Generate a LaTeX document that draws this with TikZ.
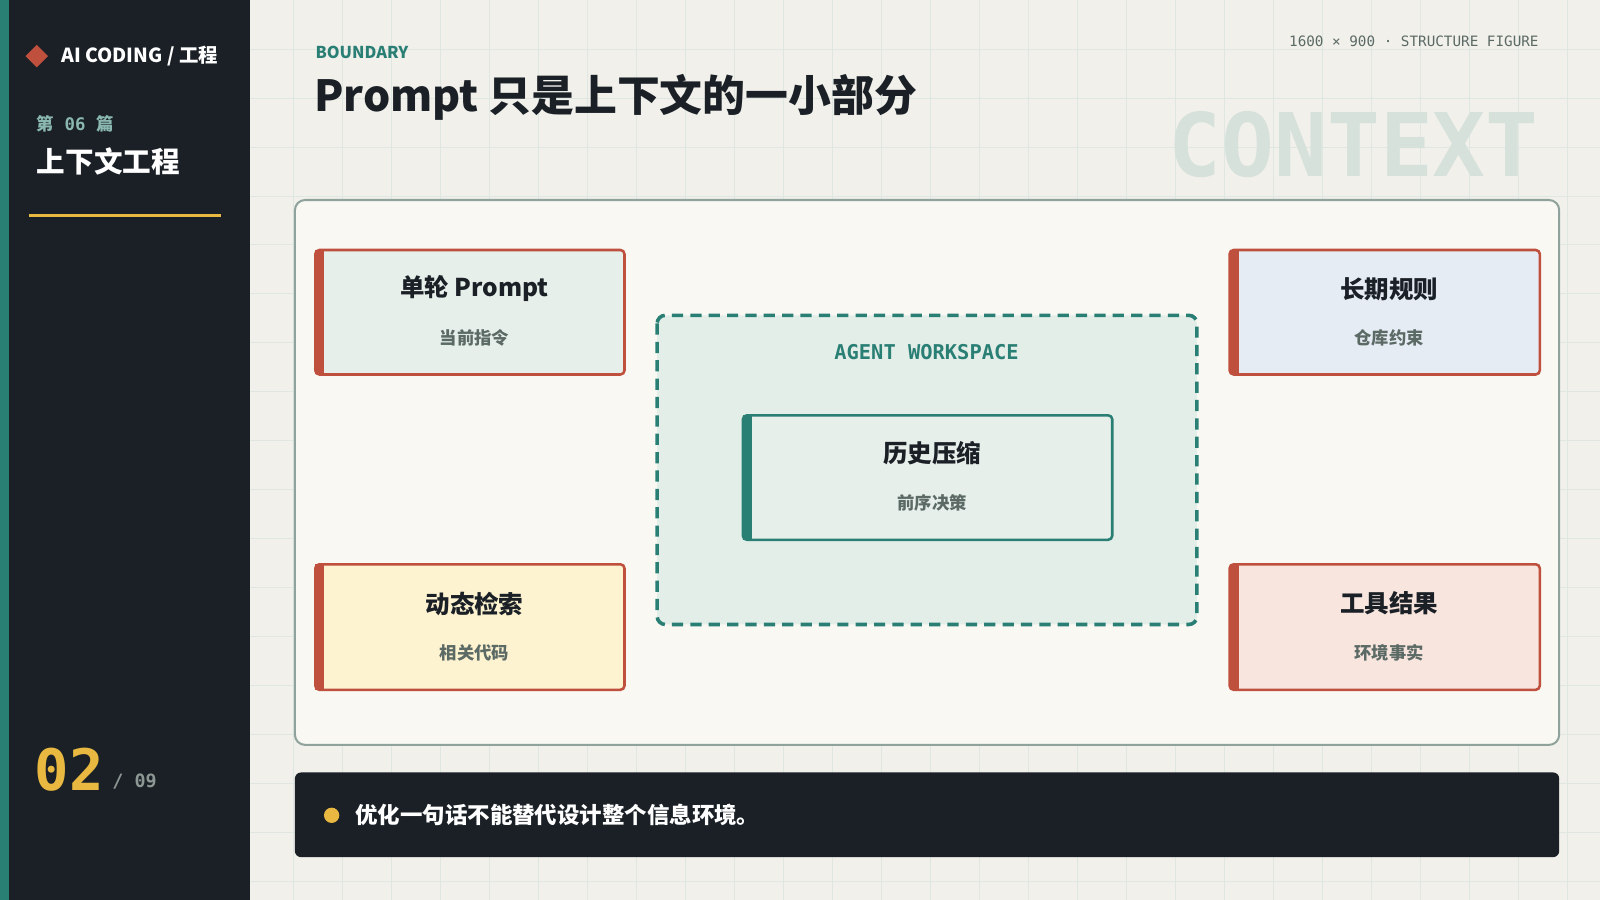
\documentclass[tikz,border=0pt]{standalone}
\usepackage{fontspec}
\setmainfont{Noto Sans CJK SC}
\newfontfamily\cjk{Noto Sans CJK SC}
\newfontfamily\monof{DejaVu Sans Mono}
\usetikzlibrary{calc}
\definecolor{ink}{HTML}{1A2026}
\definecolor{teal}{HTML}{2A7F75}
\definecolor{tealL}{HTML}{8AB8B0}
\definecolor{gold}{HTML}{E8B840}
\definecolor{bg}{HTML}{F1F0EB}
\definecolor{gridc}{HTML}{DFE7E2}
\definecolor{panel}{HTML}{F9F8F3}
\definecolor{panelb}{HTML}{8FA39C}
\definecolor{red}{HTML}{C0503E}
\definecolor{gray}{HTML}{5C6A66}
\definecolor{ghost}{HTML}{D6E1DC}
\definecolor{fA}{HTML}{E6EFEA}
\definecolor{fB}{HTML}{E6ECF4}
\definecolor{fC}{HTML}{FDF3D0}
\definecolor{fD}{HTML}{F7E5DE}
\definecolor{ws}{HTML}{E4EEE9}
\tikzset{
 card/.style={draw=red,line width=2.5pt,rounded corners=4pt},
 ttl/.style={font=\cjk\fontsize{24}{28}\selectfont\bfseries,text=ink,anchor=center},
 sub/.style={font=\cjk\fontsize{17}{20}\selectfont\bfseries,text=gray,anchor=center},
}
\newcommand{\mycard}[7]{% name,x1,y1,x2,y2,fill,strip
 \fill[#6,rounded corners=4pt] (#2,#3) rectangle (#4,#5);
 \fill[#7] (#2,#3) rectangle ($(#2,#5)+(9,0)$);
 \draw[card,draw=#7] (#2,#3) rectangle (#4,#5);
 \coordinate (#1) at ($(#2,#3)!0.5!(#4,#5)+(4.5,0)$);
}
\begin{document}
\begin{tikzpicture}[x=1pt,y=-1pt]
\useasboundingbox (0,0) rectangle (1568,882);
\fill[bg] (0,0) rectangle (1568,882);
\foreach \i in {6,...,32} \draw[gridc,line width=0.8pt] (\i*48,0) -- (\i*48,882);
\foreach \j in {1,...,18} \draw[gridc,line width=0.8pt] (245,\j*48) -- (1568,\j*48);
% sidebar
\fill[ink] (0,0) rectangle (245,882);
\fill[teal] (0,0) rectangle (9,882);
\fill[red] (36,44) -- (47,55) -- (36,66) -- (25,55) -- cycle;
\node[anchor=west,text=white,font=\cjk\fontsize{19}{24}\selectfont\bfseries,inner sep=0] (brand) at (60,55) {AI CODING / 工程};
\node[anchor=west,text=tealL,font=\monof\fontsize{17}{20}\selectfont\bfseries,inner sep=0] (ep) at (36,121) {{\cjk 第} 06 {\cjk 篇}};
\node[anchor=west,text=white,font=\cjk\fontsize{28}{32}\selectfont\bfseries,inner sep=0] (st) at (36,158) {上下文工程};
\draw[gold,line width=3pt] (28,211) -- (217,211);
\node[anchor=base west,text=gold,font=\monof\fontsize{56}{60}\selectfont\bfseries,inner sep=0] (pg) at (34,775) {02};
\node[anchor=base west,text=gray!70!white,font=\monof\fontsize{18}{20}\selectfont\bfseries,inner sep=0] (tot) at (110,772) {/ 09};
% header
\node[anchor=west,text=teal,font=\cjk\fontsize{16}{18}\selectfont\bfseries,inner sep=0] (bd) at (309,51) {BOUNDARY};
\node[anchor=west,text=ink,font=\cjk\fontsize{42}{46}\selectfont\bfseries,inner sep=0] (title) at (308,95) {Prompt 只是上下文的一小部分};
\node[anchor=east,text=gray,font=\monof\fontsize{14}{16}\selectfont,inner sep=0] (meta) at (1508,40) {1600 × 900 · STRUCTURE FIGURE};
\node[anchor=east,text=ghost,font=\monof\fontsize{86}{90}\selectfont\bfseries,inner sep=0] (ghost) at (1508,142) {CONTEXT};
% panel
\filldraw[fill=panel,draw=panelb,line width=2pt,rounded corners=10pt] (289,196) rectangle (1528,730);
\mycard{tl}{309}{245}{612}{367}{fA}{red}
\mycard{tr}{1205}{245}{1509}{367}{fB}{red}
\mycard{bl}{309}{553}{612}{676}{fC}{red}
\mycard{br}{1205}{553}{1509}{676}{fD}{red}
\node[ttl] (tlt) at ($(tl)+(0,-23)$) {单轮 Prompt};
\node[sub] (tls) at ($(tl)+(0,25)$) {当前指令};
\node[ttl] (trt) at ($(tr)+(0,-23)$) {长期规则};
\node[sub] (trs) at ($(tr)+(0,25)$) {仓库约束};
\node[ttl] (blt) at ($(bl)+(0,-23)$) {动态检索};
\node[sub] (bls) at ($(bl)+(0,25)$) {相关代码};
\node[ttl] (brt) at ($(br)+(0,-23)$) {工具结果};
\node[sub] (brs) at ($(br)+(0,25)$) {环境事实};
% workspace
\filldraw[fill=ws,draw=teal,line width=3.5pt,dash pattern=on 11pt off 7pt,rounded corners=8pt] (644,309) rectangle (1173,612);
\node[text=teal,font=\monof\fontsize{20}{22}\selectfont\bfseries] (wst) at (908,345) {AGENT WORKSPACE};
\mycard{hc}{728}{407}{1090}{529}{fA}{teal}
\node[ttl] (hct) at ($(hc)+(0,-24)$) {历史压缩};
\node[sub] (hcs) at ($(hc)+(0,25)$) {前序决策};
% bottom bar
\fill[ink,rounded corners=6pt] (289,757) rectangle (1528,840);
\fill[gold] (325,799) circle (7.5);
\node[anchor=west,text=white,font=\cjk\fontsize{22}{26}\selectfont\bfseries,inner sep=0] (msg) at (348,799) {优化一句话不能替代设计整个信息环境。};
\end{tikzpicture}
\end{document}
